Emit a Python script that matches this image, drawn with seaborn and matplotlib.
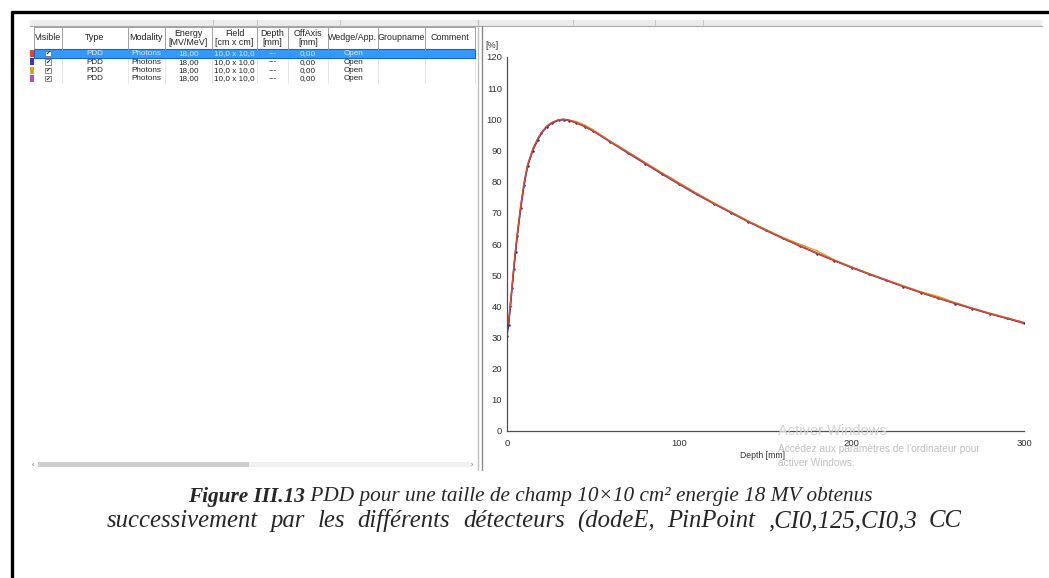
import numpy as np
import pandas as pd
import matplotlib
matplotlib.use("Agg")
import matplotlib.pyplot as plt
import seaborn as sns
from matplotlib.patches import Rectangle
from matplotlib.ticker import MultipleLocator, FixedLocator

# ---------------- data ----------------
depth_mm = [0, 1, 2, 3, 4, 5, 6, 8, 10, 12, 15, 18, 20, 23, 26, 30, 33, 36, 40, 45,
            50, 60, 70, 80, 90, 100, 110, 120, 130, 140, 150, 160, 170, 180, 190,
            200, 210, 220, 230, 240, 250, 260, 270, 280, 290, 300]
pdd_red = [33.5, 35.5, 41, 47, 53, 58.5, 63.5, 72.5, 80, 85.5, 90.5, 94, 95.8, 97.8, 99, 99.9, 100, 99.7, 99, 97.8,
           96.3, 92.8, 89.4, 86, 82.6, 79.3, 76.1, 73, 70.1, 67.2, 64.5, 61.9, 59.4, 57, 54.7,
           52.5, 50.4, 48.4, 46.4, 44.5, 42.7, 41, 39.3, 37.7, 36.2, 34.7]
pdd_blue = [30.5, 34, 40, 46, 52, 57.5, 62.5, 71.5, 79, 85, 90, 93.5, 95.5, 97.5, 98.8, 99.7, 99.9, 99.6, 98.9, 97.7,
            96.2, 92.7, 89.2, 85.8, 82.4, 79.1, 75.9, 72.9, 70, 67.1, 64.4, 61.8, 59.3, 56.9, 54.6,
            52.4, 50.3, 48.3, 46.3, 44.4, 42.6, 40.9, 39.2, 37.6, 36.1, 34.5]
pdd_gold = [33, 35, 40.5, 46.5, 52.5, 58, 63, 72, 79.5, 85.3, 90.3, 93.8, 95.7, 97.6, 98.9, 99.8, 100, 99.8, 99.3, 98.2,
            96.6, 93, 89.6, 86.2, 82.8, 79.6, 76.3, 73.2, 70.3, 67.4, 64.7, 62.1, 59.9, 57.8, 54.9,
            52.6, 50.5, 48.5, 46.6, 44.7, 43.2, 41.2, 39.4, 37.8, 36.3, 34.8]
pdd_magenta = [32.5, 35, 40.8, 46.8, 52.8, 58.3, 63.3, 72.3, 79.8, 85.4, 90.4, 93.9, 95.7, 97.7, 98.9, 99.8, 100, 99.7, 99.1, 97.9,
               96.4, 92.9, 89.5, 86.1, 82.7, 79.4, 76.2, 73.1, 70.2, 67.3, 64.6, 62, 59.5, 57.1, 54.8,
               52.6, 50.5, 48.5, 46.5, 44.6, 42.8, 41.1, 39.4, 37.8, 36.3, 34.8]

series_names = ["red", "blue", "gold", "magenta"]
series_colors = ["#e2452a", "#3a3ab8", "#d6a428", "#c24aa8"]

y_ticks = [0, 10, 20, 30, 40, 50, 60, 70, 80, 90, 100, 110, 120]
x_tick_labels = [0, 100, 200, 300]

table_headers = ["Visible", "Type", "Modality", "Energy\n[MV/MeV]", "Field\n[cm x cm]",
                 "Depth\n[mm]", "OffAxis\n[mm]", "Wedge/App.", "Groupname", "Comment"]
row_type = ["PDD", "PDD", "PDD", "PDD"]
row_modality = ["Photons", "Photons", "Photons", "Photons"]
row_energy = ["18,00", "18,00", "18,00", "18,00"]
row_field = ["10,0 x 10,0", "10,0 x 10,0", "10,0 x 10,0", "10,0 x 10,0"]
row_depth = ["---", "---", "---", "---"]
row_offaxis = ["0,00", "0,00", "0,00", "0,00"]
row_wedge = ["Open", "Open", "Open", "Open"]

caption_bold = "Figure III.13"
caption_rest = " PDD pour une taille de champ 10×10 cm² energie 18 MV obtenus"
caption_line2 = "successivement par les différents détecteurs (dodeE, PinPoint ,CI0,125,CI0,3 CC"

# ---------------- figure ----------------
sns.set_theme(style="white")
plt.rcParams['font.family'] = ['Liberation Sans', 'DejaVu Sans']

W, H = 1049, 578
fig = plt.figure(figsize=(W / 100, H / 100), dpi=100)
fig.patch.set_facecolor("white")

ui = fig.add_axes([0, 0, 1, 1], zorder=0)
ui.set_xlim(0, W)
ui.set_ylim(H, 0)
ui.axis("off")

# outer border
ui.plot([12, 12], [11, H], color="black", lw=2.4, solid_capstyle="butt")
ui.plot([11, W], [12, 12], color="black", lw=2.4, solid_capstyle="butt")

# top toolbar band
ui.add_patch(Rectangle((30, 20), 1012, 6, facecolor="#ececec", edgecolor="none"))
ui.plot([30, 1042], [26, 26], color="#a8a8a8", lw=0.8)
for xs in [213, 257, 340, 573, 655, 703]:
    ui.plot([xs, xs], [20, 26], color="#c8c8c8", lw=0.8)

# panel dividers
ui.plot([478, 478], [20, 470], color="#c0c0c0", lw=1.0)
ui.plot([482, 482], [26, 470], color="#8a8a8a", lw=1.0)

# table
col_edges = [34, 62, 128, 165, 212, 257, 288, 328, 378, 425, 475]
hdr_top, hdr_bot = 27, 48.5
row_h = 8.4
ui.add_patch(Rectangle((34, hdr_top), 441, hdr_bot - hdr_top, facecolor="white", edgecolor="#a0a0a0", lw=0.7))
for xe in col_edges:
    ui.plot([xe, xe], [hdr_top, hdr_bot], color="#a0a0a0", lw=0.7)
for i, h in enumerate(table_headers):
    xc = (col_edges[i] + col_edges[i + 1]) / 2
    ui.text(xc, (hdr_top + hdr_bot) / 2, h, ha="center", va="center", fontsize=6.4,
            color="#202020", linespacing=0.95)

# selected row highlight
y0 = hdr_bot + 0.8
ui.add_patch(Rectangle((34, y0), 441, row_h, facecolor="#3399ff", edgecolor="#1a64c8", lw=0.8, zorder=1))
row_cols = [row_type, row_modality, row_energy, row_field, row_depth, row_offaxis, row_wedge]
for r in range(4):
    yc = y0 + row_h * (r + 0.5)
    txtcol = "#dce9f8" if r == 0 else "#202020"
    ui.add_patch(Rectangle((30, y0 + row_h * r + 0.6), 4, row_h - 1.2,
                           facecolor=series_colors[r], edgecolor="none"))
    # checkbox
    ui.add_patch(Rectangle((45, yc - 2.8), 6, 5.6, facecolor="white", edgecolor="#707070", lw=0.6, zorder=2))
    ui.text(48, yc + 0.2, "✔", ha="center", va="center", fontsize=4.2, color="#202020",
            family=["DejaVu Sans"], zorder=3)
    for c, vals in enumerate(row_cols):
        xc = (col_edges[c + 1] + col_edges[c + 2]) / 2
        ui.text(xc, yc + 0.3, vals[r], ha="center", va="center", fontsize=5.9, color=txtcol, zorder=3)
for xe in col_edges[1:]:
    ui.plot([xe, xe], [y0 + row_h, y0 + 4 * row_h], color="#e0e0e0", lw=0.6, zorder=0.5)

# scrollbar
ui.add_patch(Rectangle((37, 461.5), 435, 5.5, facecolor="#f0f0f0", edgecolor="none"))
ui.add_patch(Rectangle((38, 461.5), 211, 5.5, facecolor="#cdcdcd", edgecolor="none"))
ui.text(33, 465, "‹", fontsize=5, color="#606060", ha="center", va="center")
ui.text(472, 465, "›", fontsize=5, color="#606060", ha="center", va="center")

# ---------------- plot ----------------
x0p, x1p = 507, 1024
yb, yt = 431, 57
ax = fig.add_axes([x0p / W, 1 - yb / H, (x1p - x0p) / W, (yb - yt) / H], zorder=1)
ax.patch.set_alpha(0)

pdd_all = [pdd_red, pdd_blue, pdd_gold, pdd_magenta]
df = pd.DataFrame({
    "depth": np.tile(depth_mm, 4),
    "pdd": np.concatenate(pdd_all),
    "detector": np.repeat(series_names, len(depth_mm)),
})
draw_order = ["magenta", "gold", "blue", "red"]
for name in draw_order:
    i = series_names.index(name)
    sub = df[df.detector == name]
    sns.lineplot(data=sub, x="depth", y="pdd", color=series_colors[i], lw=1.0, ax=ax,
                 legend=False, sort=True, estimator=None)
sub = df[df.detector == "blue"]
sns.scatterplot(data=sub, x="depth", y="pdd", color="#202030", s=3, linewidth=0, ax=ax, legend=False)

ax.set_xlim(0, 300)
ax.set_ylim(0, 120)
ax.set_xlabel("")
ax.set_ylabel("")
for s in ["top", "right"]:
    ax.spines[s].set_visible(False)
for s in ["left", "bottom"]:
    ax.spines[s].set_color("#505050")
    ax.spines[s].set_linewidth(0.9)
ax.yaxis.set_major_locator(FixedLocator(y_ticks))
ax.yaxis.set_minor_locator(MultipleLocator(5))
ax.xaxis.set_major_locator(FixedLocator(x_tick_labels))
ax.xaxis.set_minor_locator(MultipleLocator(50))
ax.tick_params(axis="both", which="major", direction="inout", length=5, width=0.8,
               color="#404040", labelsize=6.8, labelcolor="#303030")
ax.tick_params(axis="both", which="minor", direction="inout", length=4, width=0.8, color="#404040")
ax.tick_params(axis="y", pad=1)
ax.tick_params(axis="x", pad=3)

ui.text(492, 46, "[%]", ha="center", va="center", fontsize=6.5, color="#303030")
ui.text(762, 456, "Depth [mm]", ha="center", va="center", fontsize=6.2, color="#303030")

# watermark
def ftxt(x, y, s, **kw):
    return fig.text(x / W, 1 - y / H, s, **kw)

ftxt(778, 431, "Activer Windows", fontsize=10.5, color="#d2d2d2", va="center", ha="left", zorder=10,
     family=["Liberation Sans"])
ftxt(778, 449, "Accédez aux paramètres de l'ordinateur pour", fontsize=7.3, color="#c0c0c0",
     va="center", ha="left", zorder=10)
ftxt(778, 463, "activer Windows.", fontsize=7.3, color="#c0c0c0", va="center", ha="left", zorder=10)

# caption
cap_fs = 15.3
serif = ["Liberation Serif", "DejaVu Serif"]
t1 = ftxt(0, 497, caption_bold, fontsize=cap_fs, family=serif, style="italic", weight="bold",
          va="center", ha="left")
t2 = ftxt(0, 497, caption_rest, fontsize=cap_fs, family=serif, style="italic", va="center", ha="left")
words2 = caption_line2.split(" ")
wt = [ftxt(0, 521, w, fontsize=17.8, family=serif, style="italic", va="center", ha="left") for w in words2]
fig.canvas.draw()
r = fig.canvas.get_renderer()
w1 = t1.get_window_extent(r).width
w2 = t2.get_window_extent(r).width
start = 530 - (w1 + w2) / 2
t1.set_x(start / W)
t2.set_x((start + w1) / W)
ww = [t.get_window_extent(r).width for t in wt]
line_l, line_r = 107, 962
gap = (line_r - line_l - sum(ww)) / (len(ww) - 1)
xcur = line_l
for t, w in zip(wt, ww):
    t.set_x(xcur / W)
    xcur += w + gap

fig.savefig("out.png", dpi=100, facecolor="white")
